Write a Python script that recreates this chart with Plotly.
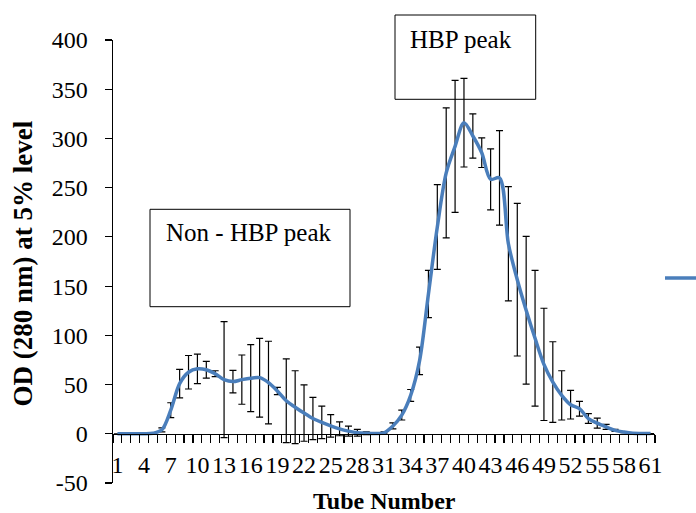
import plotly.graph_objects as go

tubes = list(range(1, 62))
od_values = [0, 0, 0, 0, 0.5, 4, 24, 51, 62.5, 66,
             65, 61, 55, 53, 55, 56.5, 57, 52, 43.5, 33.5,
             27, 21, 15.5, 11.5, 8, 5, 2.7, 1, 0.5, 0.3,
             1, 8, 19, 39, 74, 142, 210, 265, 292, 316,
             302.5, 285.5, 258.5, 260, 193, 156.5, 125.5, 97, 70.5, 52.5,
             39, 29.5, 25.5, 15.5, 10.8, 7, 3.5, 1.7, 0.5, 0.3,
             0.2]
od_errors = [0, 0, 0, 0, 0.5, 2, 7.5, 14.5, 17, 15,
             8.5, 3, 59, 11.5, 25, 34, 40, 42, 3.7, 42.5,
             37, 28.6, 21.5, 16.5, 11.5, 7, 5, 3.4, 1.5, 1,
             1, 3, 5, 6, 14, 24, 43, 66, 67, 45,
             22.5, 15, 31, 48, 58, 77.5, 75, 69, 57, 41,
             25, 14.5, 7.5, 5, 5, 2.5, 1, 0.5, 0, 0,
             0]
x_tick_vals = list(range(1, 62, 3))
x_tick_labels = [str(t) for t in x_tick_vals]
y_tick_vals = list(range(-50, 401, 50))
y_tick_labels = [str(v) for v in y_tick_vals]

FONT = "Liberation Serif, Times New Roman, serif"
W, H = 696, 513
L, R, T, B = 113, 41, 40, 30
pw, ph = W - L - R, H - T - B

def px(x):
    return (x - L) / pw

def py(y):
    return (H - B - y) / ph

fig = go.Figure()
fig.add_trace(go.Scatter(
    x=tubes, y=od_values, mode="lines", name="Series1",
    line=dict(color="#4A7EBB", width=3.5, shape="spline", smoothing=0.9),
    error_y=dict(type="data", array=od_errors, visible=True,
                 color="black", thickness=1.2, width=3.5),
    showlegend=False, hoverinfo="skip",
))

fig.update_layout(
    width=W, height=H,
    margin=dict(l=L, r=R, t=T, b=B),
    paper_bgcolor="white", plot_bgcolor="white",
    hovermode=False,
    font=dict(family=FONT, size=24, color="black"),
    xaxis=dict(
        range=[0.5, 61.5], showgrid=False, zeroline=False,
        showline=True, linecolor="black", linewidth=1.5,
        anchor="free", position=50 / 450,
        tickmode="array", tickvals=x_tick_vals, ticktext=x_tick_labels,
        ticks="", ticklabelstandoff=9,
        tickfont=dict(family=FONT, size=24),
        minor=dict(tick0=0.5, dtick=1, ticks="outside", ticklen=8,
                   tickcolor="black", tickwidth=1.2, showgrid=False),
    ),
    yaxis=dict(
        range=[-50, 400], showgrid=False, zeroline=False,
        showline=True, linecolor="black", linewidth=1.5,
        tickmode="array", tickvals=y_tick_vals, ticktext=y_tick_labels,
        ticks="outside", ticklen=7, tickcolor="black", tickwidth=1.2,
        ticklabelstandoff=12,
        tickfont=dict(family=FONT, size=24),
    ),
    shapes=[
        dict(type="rect", xref="paper", yref="paper",
             x0=px(150), x1=px(350), y0=py(306.7), y1=py(209.3),
             line=dict(color="black", width=1)),
        dict(type="rect", xref="paper", yref="paper",
             x0=px(395), x1=px(535.7), y0=py(99.3), y1=py(15),
             line=dict(color="black", width=1)),
        dict(type="line", xref="paper", yref="paper",
             x0=px(665), x1=px(700), y0=py(278), y1=py(278),
             line=dict(color="#4A7EBB", width=3.5)),
    ],
    annotations=[
        dict(text="Non - HBP peak", xref="paper", yref="paper",
             x=px(248.5), y=py(232.7), showarrow=False,
             xanchor="center", yanchor="middle",
             font=dict(family=FONT, size=25)),
        dict(text="HBP peak", xref="paper", yref="paper",
             x=px(461), y=py(39), showarrow=False,
             xanchor="center", yanchor="middle",
             font=dict(family=FONT, size=25)),
        dict(text="<b>Tube Number</b>", xref="paper", yref="paper",
             x=px(384), y=py(501), showarrow=False,
             xanchor="center", yanchor="middle",
             font=dict(family=FONT, size=24)),
        dict(text="<b>OD (280 nm) at 5% level</b>", xref="paper", yref="paper",
             x=px(22), y=py(263.5), showarrow=False, textangle=-90,
             xanchor="center", yanchor="middle",
             font=dict(family=FONT, size=27)),
    ],
)

fig.write_html("out.html",
               config={"displayModeBar": False, "staticPlot": True},
               post_script="document.body.style.margin='0';document.body.style.overflow='hidden';")
